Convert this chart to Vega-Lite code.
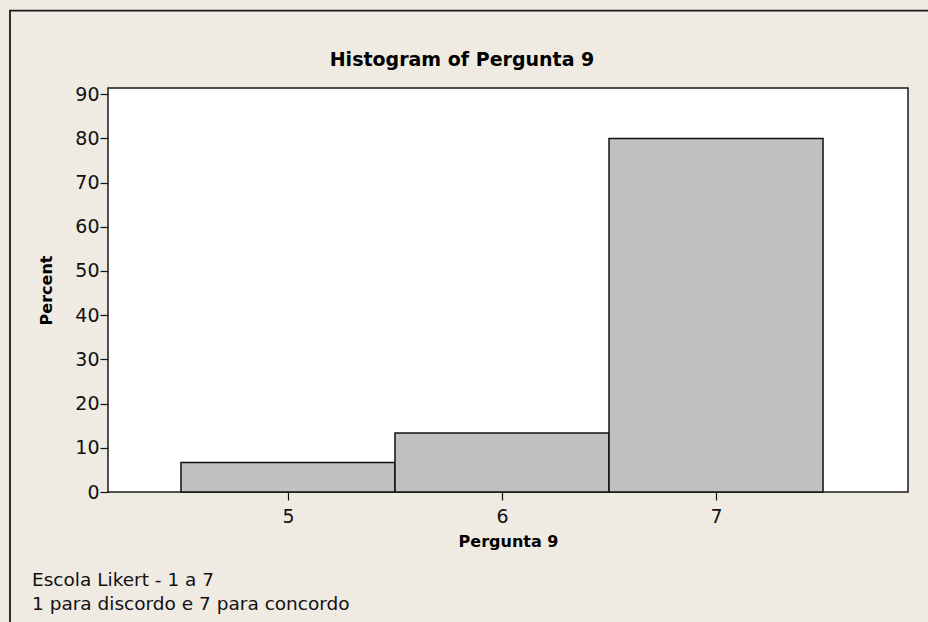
{
  "$schema": "https://vega.github.io/schema/vega-lite/v6.json",
  "autosize": {"type": "none"},
  "width": 800,
  "height": 404,
  "padding": {"left": 108, "top": 88, "right": 20, "bottom": 130},
  "background": "#EFEBE2",
  "title": {
    "text": "Histogram of Pergunta 9",
    "font": "DejaVu Sans",
    "fontSize": 19,
    "fontWeight": "bold",
    "color": "#000000",
    "anchor": "middle",
    "offset": -60,
    "dx": -46
  },
  "config": {
    "view": {"fill": "#FFFFFF", "stroke": "#1a1a1a", "strokeWidth": 1.5},
    "axis": {
      "labelFont": "DejaVu Sans",
      "titleFont": "DejaVu Sans",
      "labelColor": "#111111",
      "titleColor": "#000000",
      "tickColor": "#111111",
      "labelFontSize": 19,
      "titleFontSize": 16,
      "titleFontWeight": "bold",
      "grid": false,
      "domain": false,
      "tickSize": 8,
      "tickWidth": 1.2
    }
  },
  "layer": [
    {
      "data": {
        "values": [
          {"bin_start": 4.5, "bin_end": 5.5, "percent": 6.667},
          {"bin_start": 5.5, "bin_end": 6.5, "percent": 13.333},
          {"bin_start": 6.5, "bin_end": 7.5, "percent": 80.0}
        ]
      },
      "mark": {"type": "bar", "fill": "#C0C0C0", "stroke": "#111111", "strokeWidth": 1.5, "orient": "vertical"},
      "encoding": {
        "x": {
          "field": "bin_start",
          "type": "quantitative",
          "scale": {"domain": [4.159, 7.897], "nice": false, "zero": false, "padding": 0},
          "axis": {"values": [5, 6, 7], "title": "Pergunta 9", "labelPadding": 7, "titlePadding": 7, "format": "d"}
        },
        "x2": {"field": "bin_end"},
        "y": {
          "field": "percent",
          "type": "quantitative",
          "scale": {"domain": [0, 91.4], "nice": false, "padding": 0},
          "axis": {"values": [0, 10, 20, 30, 40, 50, 60, 70, 80, 90], "title": "Percent", "labelPadding": 1, "titlePadding": 20}
        },
        "y2": {"datum": 0}
      }
    },
    {
      "data": {
        "values": [
          {"note": "Escola Likert - 1 a 7\n1 para discordo e 7 para concordo"}
        ]
      },
      "mark": {
        "type": "text",
        "align": "left",
        "baseline": "top",
        "lineBreak": "\n",
        "lineHeight": 24,
        "font": "DejaVu Sans",
        "fontSize": 18.5,
        "color": "#111111",
        "clip": false
      },
      "encoding": {
        "text": {"field": "note"},
        "x": {"datum": 3.804, "type": "quantitative"},
        "y": {"datum": -17.9, "type": "quantitative"}
      }
    },
    {
      "data": {"values": [{"frame": "outer"}]},
      "mark": {"type": "rect", "fill": null, "stroke": "#1a1a1a", "strokeWidth": 1.8, "clip": false},
      "encoding": {
        "x": {"datum": 3.701, "type": "quantitative"},
        "x2": {"datum": 8.2},
        "y": {"datum": 108.9, "type": "quantitative"},
        "y2": {"datum": -35}
      }
    }
  ]
}
